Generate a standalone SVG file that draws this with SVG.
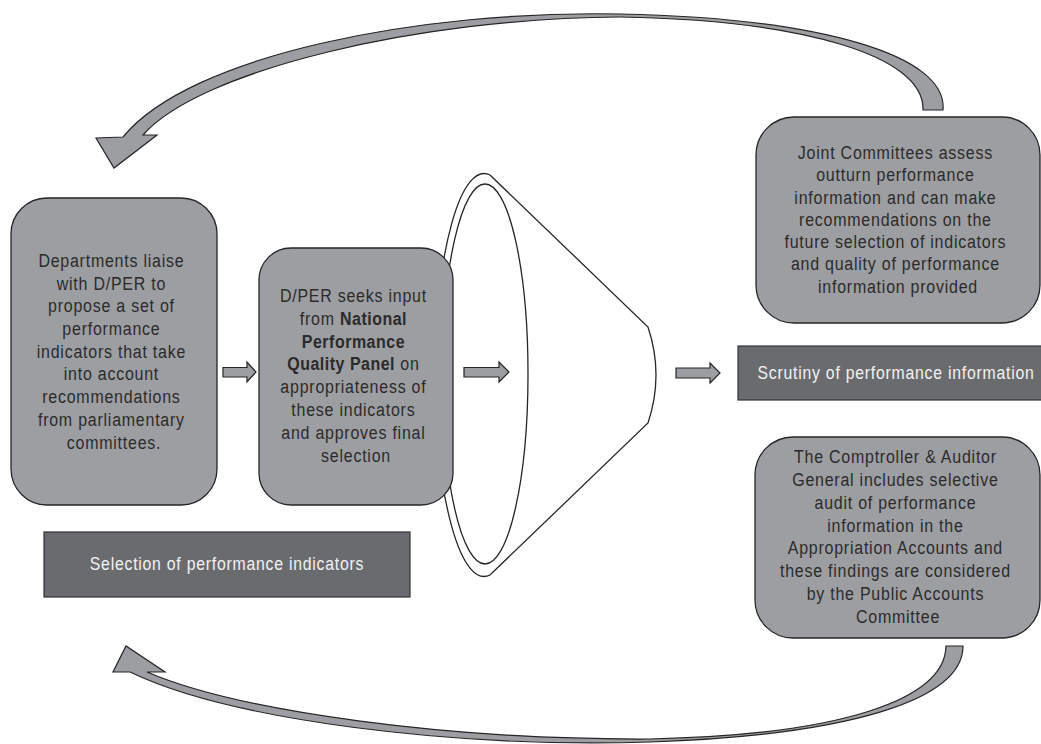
<svg xmlns="http://www.w3.org/2000/svg" width="1041" height="744" viewBox="0 0 1041 744">
  <style>
    .box { fill: #9d9ea2; stroke: #262626; stroke-width: 1.3; }
    .band { fill: #6a6b6f; stroke: #333; stroke-width: 1.2; }
    .t { font-family: "Liberation Sans", Arial, sans-serif; font-size: 18.8px; letter-spacing: 0.9px; fill: #2b2b2b; text-anchor: middle; }
    .tl { font-family: "Liberation Sans", Arial, sans-serif; font-size: 18.6px; letter-spacing: 0.9px; fill: #f2f2f2; text-anchor: middle; }
    .b { font-weight: bold; letter-spacing: 0.6px; }
    .arr { fill: #9d9ea2; stroke: #262626; stroke-width: 1.2; stroke-linejoin: miter; }
    .fun { fill: #ffffff; stroke: #262626; stroke-width: 1.3; }
  </style>
  <rect width="1041" height="744" fill="#ffffff"/>

  <!-- funnel (drawn first so the D/PER box sits over its left rim) -->
  <g id="funnel">
    <path class="fun" d="M490,175 L648,327 Q664,375 648,423 L490,575 A49,201.5 0 1 1 490,175 Z"/>
    <ellipse class="fun" cx="485" cy="374" rx="43" ry="190"/>
  </g>

  <g id="connectors">
    <!-- return loop, top: from Joint Committees back to the departments -->
    <path class="arr" d="M943,110 C948,55 820,18 620,14 C420,10 190,55 123,137 L96,138 L114,168 L157,135 L143,135 C200,70 420,18 620,17 C800,20 925,55 923,110 Z"/>
    <!-- return loop, bottom: from the Comptroller back to the selection -->
    <path class="arr" d="M963,646 C963,700 850,735 650,742 C450,748 230,720 130,672 L113,672 L126,646 L165,672 L147,672 C240,712 450,740 650,739 C840,735 945,700 946,646 Z"/>
    <!-- block arrows along the main flow -->
    <path class="arr" d="M223,367.5 L247,367.5 L247,362 L256,372 L247,382 L247,377 L223,377 Z"/>
    <path class="arr" d="M464,367.5 L499,367.5 L499,362 L509,372 L499,382 L499,377 L464,377 Z"/>
    <path class="arr" d="M676,368 L710,368 L710,363 L720,373 L710,383 L710,378 L676,378 Z"/>
  </g>

  <!-- condensed lettering: each text block is squeezed horizontally about its centre line -->
  <g id="departments">
    <rect class="box" x="11" y="198" width="206" height="307" rx="36" ry="36"/>
    <text class="t" y="267" transform="translate(114,0) scale(0.85,1)">
      <tspan x="0">Departments liaise</tspan>
      <tspan x="0" dy="22.7">with D/PER to</tspan>
      <tspan x="0" dy="22.7">propose a set of</tspan>
      <tspan x="0" dy="22.7">performance</tspan>
      <tspan x="0" dy="22.7">indicators that take</tspan>
      <tspan x="0" dy="22.7">into account</tspan>
      <tspan x="0" dy="22.7">recommendations</tspan>
      <tspan x="0" dy="22.7">from parliamentary</tspan>
      <tspan x="0" dy="22.7">committees.</tspan>
    </text>
  </g>

  <g id="dper">
    <rect class="box" x="259" y="248" width="194" height="257" rx="32" ry="32"/>
    <text class="t" y="302" transform="translate(356,0) scale(0.85,1)">
      <tspan x="0">D/PER seeks input</tspan>
      <tspan x="0" dy="22.8">from <tspan class="b">National</tspan></tspan>
      <tspan x="0" dy="22.8" class="b">Performance</tspan>
      <tspan x="0" dy="22.8"><tspan class="b">Quality Panel</tspan> on</tspan>
      <tspan x="0" dy="22.8">appropriateness of</tspan>
      <tspan x="0" dy="22.8">these indicators</tspan>
      <tspan x="0" dy="22.8">and approves final</tspan>
      <tspan x="0" dy="22.8">selection</tspan>
    </text>
  </g>

  <g id="selection">
    <rect class="band" x="44" y="532" width="366" height="65"/>
    <text class="tl" x="0" y="570" transform="translate(227,0) scale(0.85,1)">Selection of performance indicators</text>
  </g>

  <g id="joint-committees">
    <rect class="box" x="756" y="117" width="284" height="206" rx="38" ry="38"/>
    <text class="t" y="159" transform="translate(898,0) scale(0.85,1)">
      <tspan x="0">Joint Committees assess</tspan>
      <tspan x="0" dy="22.3">outturn performance</tspan>
      <tspan x="0" dy="22.3">information and can make</tspan>
      <tspan x="0" dy="22.3">recommendations on the</tspan>
      <tspan x="0" dy="22.3">future selection of indicators</tspan>
      <tspan x="0" dy="22.3">and quality of performance</tspan>
      <tspan x="0" dy="22.3">information provided</tspan>
    </text>
  </g>

  <g id="scrutiny">
    <rect class="band" x="738" y="346" width="320" height="54"/>
    <text class="tl" x="0" y="379" transform="translate(896,0) scale(0.85,1)">Scrutiny of performance information</text>
  </g>

  <g id="comptroller">
    <rect class="box" x="755" y="437" width="285" height="201" rx="38" ry="38"/>
    <text class="t" y="463" transform="translate(898,0) scale(0.85,1)">
      <tspan x="0">The Comptroller &amp; Auditor</tspan>
      <tspan x="0" dy="22.86">General includes selective</tspan>
      <tspan x="0" dy="22.86">audit of performance</tspan>
      <tspan x="0" dy="22.86">information in the</tspan>
      <tspan x="0" dy="22.86">Appropriation Accounts and</tspan>
      <tspan x="0" dy="22.86">these findings are considered</tspan>
      <tspan x="0" dy="22.86">by the Public Accounts</tspan>
      <tspan x="0" dy="22.86">Committee</tspan>
    </text>
  </g>
</svg>
